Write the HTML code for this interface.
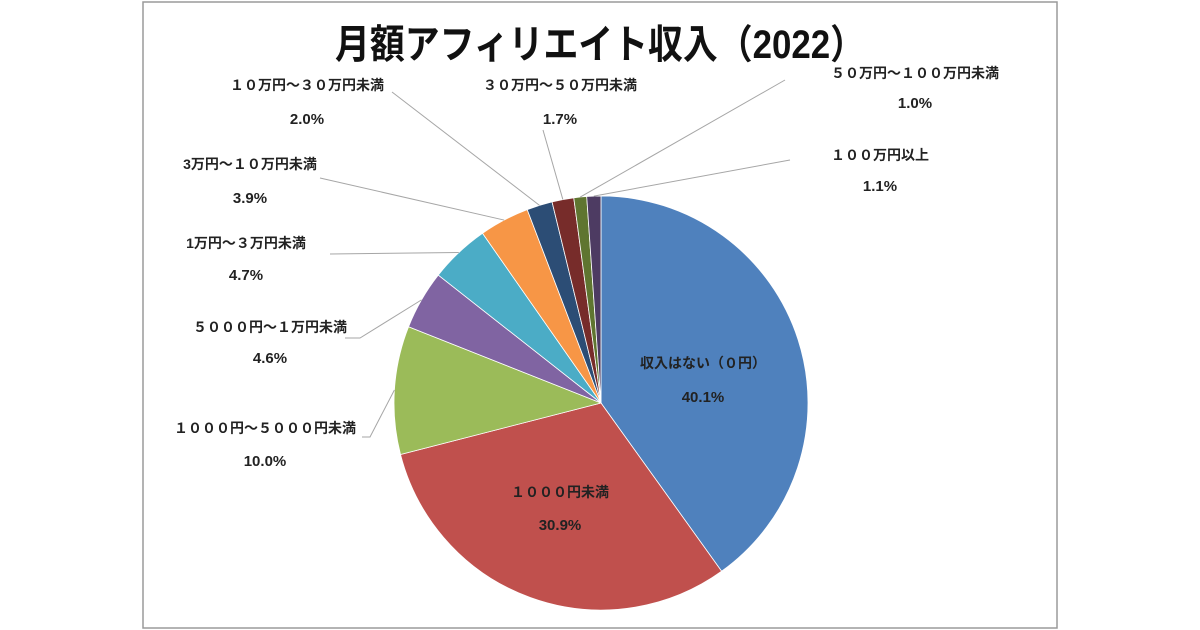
<!DOCTYPE html>
<html><head><meta charset="utf-8">
<style>
html,body{margin:0;padding:0;background:#fff;}
#wrap{position:relative;width:1200px;height:630px;overflow:hidden;}
svg text{font-family:"Liberation Sans","Noto Sans CJK JP",sans-serif;font-weight:bold;fill:#222;}
</style></head>
<body>
<div id="wrap">
<svg id="chart" width="1200" height="630" viewBox="0 0 1200 630">
  <rect x="143" y="2" width="914" height="626" fill="#fff" stroke="#9a9a9a" stroke-width="1.5"/>
  <text x="600" y="58" text-anchor="middle" font-size="40" textLength="530" lengthAdjust="spacingAndGlyphs" style="fill:#111">月額アフィリエイト収入（2022）</text>
  <g id="slices"></g>
  <g id="leaders"></g>
  <g id="labels"></g>
</svg>
</div>
<script>
const categories = ["収入はない（０円）","１０００円未満","１０００円～５０００円未満","５０００円～１万円未満","1万円～３万円未満","3万円～１０万円未満","１０万円～３０万円未満","３０万円～５０万円未満","５０万円～１００万円未満","１００万円以上"];
const values = [40.1,30.9,10.0,4.6,4.7,3.9,2.0,1.7,1.0,1.1];
const valueLabels = ["40.1%","30.9%","10.0%","4.6%","4.7%","3.9%","2.0%","1.7%","1.0%","1.1%"];
const colors = ["#4F81BD","#C0504D","#9BBB59","#8064A2","#4BACC6","#F79646","#2C4D75","#772C2A","#5F7530","#4D3B62"];
// label layout: [x, y of name line, y of value line, inside?, leader end x, leader end y, elbow x]
const layout = [
  [703,368,402,true],
  [560,497,530,true],
  [265,433,466,false,362,437,370],
  [270,332,363,false,345,338,360],
  [246,248,280,false,330,254,null],
  [250,169,203,false,320,178,null],
  [307,90,124,false,392,92,null],
  [560,90,124,false,543,130,null],
  [915,78,108,false,785,80,null],
  [880,160,191,false,790,160,null]
];
const cx=601, cy=403, r=207;
const NS="http://www.w3.org/2000/svg";
const total = values.reduce((a,b)=>a+b,0);
function angleOf(v){return v/total*Math.PI*2;}
function pt(a,rad){return [cx+rad*Math.sin(a), cy-rad*Math.cos(a)];}
const gS=document.getElementById('slices'), gL=document.getElementById('leaders'), gT=document.getElementById('labels');
let acc=0;
values.forEach((v,i)=>{
  const a0=acc, a1=acc+angleOf(v); acc=a1;
  const p0=pt(a0,r), p1=pt(a1,r);
  const large=(a1-a0)>Math.PI?1:0;
  const path=document.createElementNS(NS,'path');
  path.setAttribute('d',`M${cx},${cy} L${p0[0]},${p0[1]} A${r},${r} 0 ${large} 1 ${p1[0]},${p1[1]} Z`);
  path.setAttribute('fill',colors[i]);
  path.setAttribute('stroke','#fff');
  path.setAttribute('stroke-width','0.8');
  
  
  gS.appendChild(path);
  const L=layout[i];
  if(!L[3]){
    const m=pt((a0+a1)/2,r);
    const pl=document.createElementNS(NS,'polyline');
    let pts=`${m[0]},${m[1]} `;
    if(L[6]!==null) pts+=`${L[6]},${L[5]} `;
    pts+=`${L[4]},${L[5]}`;
    pl.setAttribute('points',pts);
    pl.setAttribute('fill','none');
    pl.setAttribute('stroke','#a6a6a6');
    pl.setAttribute('stroke-width','1');
    
    
    gL.appendChild(pl);
  }
  const t1=document.createElementNS(NS,'text');
  t1.setAttribute('x',L[0]); t1.setAttribute('y',L[1]);
  t1.setAttribute('text-anchor','middle'); t1.setAttribute('font-size','14');
  t1.textContent=categories[i];
  
  
  gT.appendChild(t1);
  const t2=document.createElementNS(NS,'text');
  t2.setAttribute('x',L[0]); t2.setAttribute('y',L[2]);
  t2.setAttribute('text-anchor','middle'); t2.setAttribute('font-size','15');
  t2.textContent=valueLabels[i];
  
  
  gT.appendChild(t2);
});
</script>
</body></html>
